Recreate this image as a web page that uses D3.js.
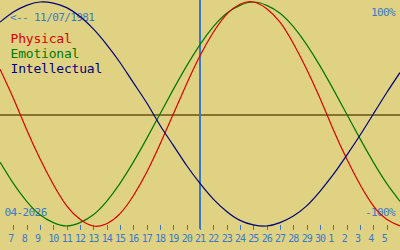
<!DOCTYPE html>
<html><head><meta charset="utf-8">
<script src="https://cdn.jsdelivr.net/npm/d3@7"></script>
<style>html,body{margin:0;padding:0;background:#E0D283;overflow:hidden}svg{display:block}</style>
</head><body><svg id="c" width="400" height="250"></svg>
<script>
// day index 0 = April 6, 2026 ... 30 = May 6, 2026
const dayIndex = d3.range(0, 31);
const tickLabels = ["7","8","9","10","11","12","13","14","15","16","17","18","19","20","21","22","23","24","25","26","27","28","29","30","1","2","3","4","5"];
const physical = [40,14,-14,-40,-63,-82,-94,-100,-98,-89,-73,-52,-27,0,27,52,73,89,98,100,94,82,63,40,14,-14,-40,-63,-82,-94,-100];
const emotional = [-43,-62,-78,-90,-97,-100,-97,-90,-78,-62,-43,-22,0,22,43,62,78,90,97,100,97,90,78,62,43,22,0,-22,-43,-62,-78];
const intellectual = [82,91,97,100,99,95,87,76,62,46,28,10,-10,-28,-46,-62,-76,-87,-95,-99,-100,-97,-91,-82,-69,-54,-37,-19,0,19,37];
const birthLabel = "<-- 11/07/1981";
const monthLabel = "04-2026";
const legend = ["Physical","Emotional","Intellectual"];
const colors = ["#DC0000","#007800","#00007C"];
const today = 15; // April 21

const svg = d3.select("#c");
const W = 400, H = 250;
const x = d3.scaleLinear().domain([0, 30]).range([0, W]);
const y = d3.scaleLinear().domain([-100, 100]).range([226, 2]);
const axisBlue = "#3C78C8";
const mono = "'DejaVu Sans Mono', monospace";

svg.append("rect").attr("width", W).attr("height", H).attr("fill", "#E0D283");

// zero line
svg.append("line").attr("x1", 0).attr("x2", W).attr("y1", y(0) + 1).attr("y2", y(0) + 1)
  .attr("stroke", "#85732A").attr("stroke-width", 2).attr("shape-rendering", "crispEdges");
// today line
svg.append("line").attr("x1", x(today)).attr("x2", x(today)).attr("y1", 0).attr("y2", 229)
  .attr("stroke", axisBlue).attr("stroke-width", 2).attr("shape-rendering", "crispEdges");

// ticks
const tickIdx = d3.range(1, 30);
svg.selectAll("line.tk").data(tickIdx).join("line").attr("class", "tk")
  .attr("x1", d => Math.round(x(d)) + 0.5).attr("x2", d => Math.round(x(d)) + 0.5)
  .attr("y1", 225).attr("y2", 230).attr("stroke", axisBlue).attr("stroke-width", 1)
  .attr("shape-rendering", "crispEdges");
svg.selectAll("text.tl").data(tickIdx).join("text").attr("class", "tl")
  .attr("x", d => x(d) - 5).attr("y", 241.5)
  .attr("font-family", mono).attr("font-size", 10).attr("letter-spacing", -1).attr("fill", axisBlue)
  .text((d, i) => tickLabels[i]);

// texts
const small = (sel) => sel.attr("font-family", mono).attr("font-size", 11).attr("letter-spacing", -0.6).attr("fill", axisBlue);
svg.append("text").attr("x", 10).attr("y", 20.5).call(small).text(birthLabel);
svg.append("text").attr("x", 395).attr("y", 15.5).attr("text-anchor", "end").call(small).text("100%");
svg.append("text").attr("x", 395).attr("y", 215.5).attr("text-anchor", "end").call(small).text("-100%");
svg.append("text").attr("x", 4.5).attr("y", 215.5).call(small).text(monthLabel);
legend.forEach((t, i) => {
  svg.append("text").attr("x", 10.5).attr("y", 42.5 + i * 15).attr("font-family", mono)
    .attr("font-size", 13).attr("letter-spacing", -0.2).attr("fill", colors[i]).text(t);
});

// curves
const line = d3.line().x((d, i) => x(dayIndex[i])).y(d => y(d)).curve(d3.curveNatural);
[emotional, physical, intellectual].forEach((s, k) => {
  const col = [colors[1], colors[0], colors[2]][k];
  svg.append("path").attr("d", line(s)).attr("fill", "none").attr("stroke", col)
    .attr("stroke-width", 1.2);
});
</script></body></html>
